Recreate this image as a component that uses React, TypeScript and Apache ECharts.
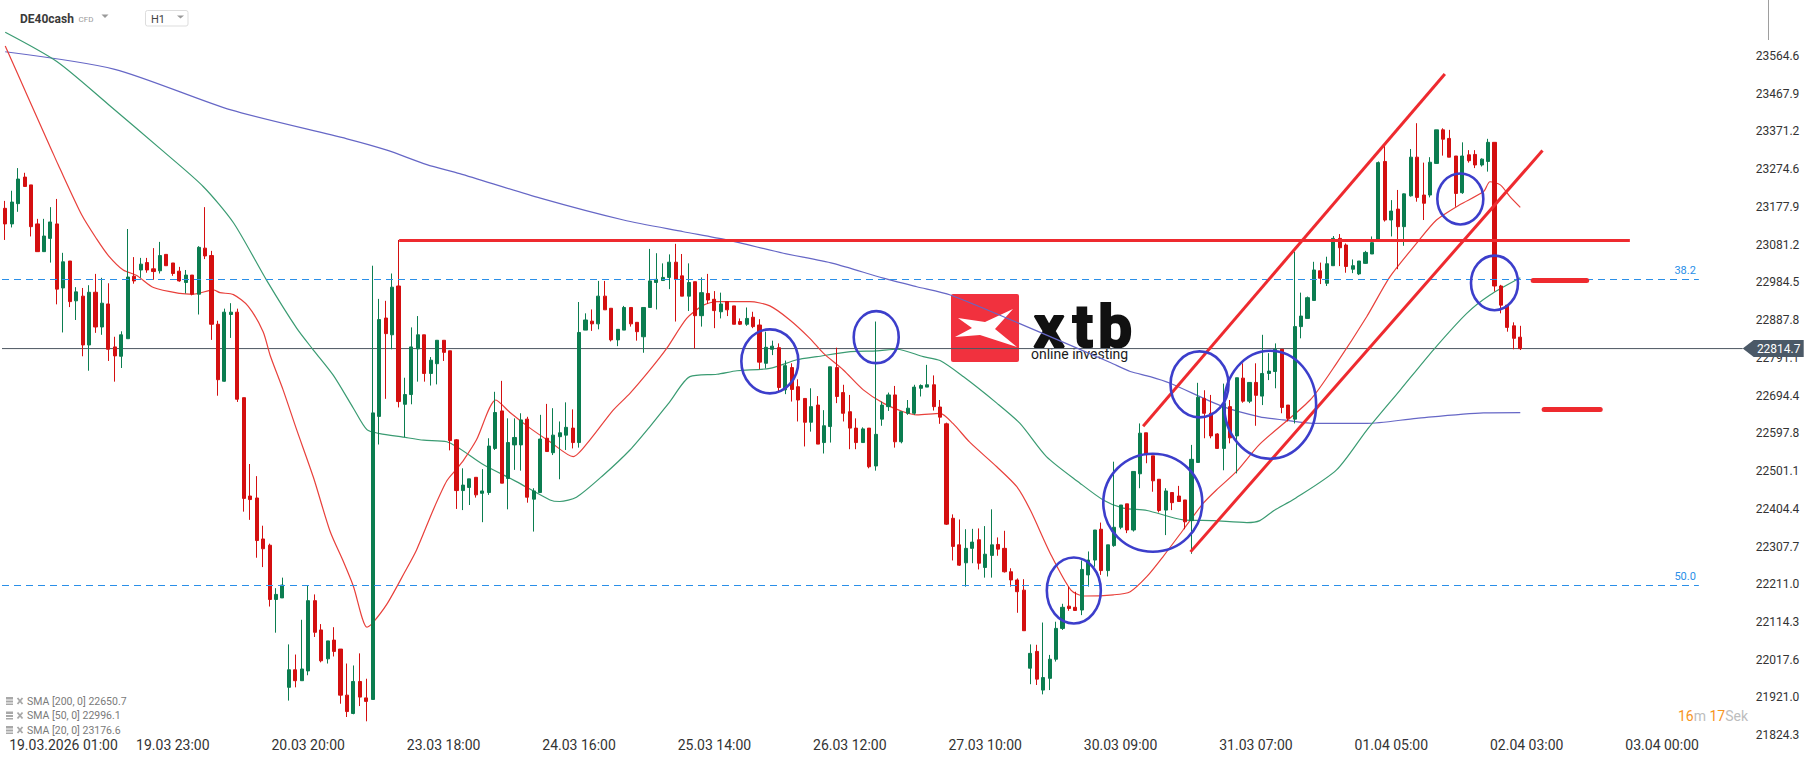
import React, { useEffect, useRef } from "react";
import * as echarts from "echarts";

// ---------- axis ticks ----------
const xTickLabels = [
  "19.03.2026 01:00", "19.03 23:00", "20.03 20:00", "23.03 18:00", "24.03 16:00",
  "25.03 14:00", "26.03 12:00", "27.03 10:00", "30.03 09:00", "31.03 07:00",
  "01.04 05:00", "02.04 03:00", "03.04 00:00",
];
const yTickValues = [
  23564.6, 23467.9, 23371.2, 23274.6, 23177.9, 23081.2, 22984.5, 22887.8, 22791.1,
  22694.4, 22597.8, 22501.1, 22404.4, 22307.7, 22211.0, 22114.3, 22017.6, 21921.0, 21824.3,
];
const FIRST_TICK_SLOT = 5;
const SLOTS_PER_TICK = 21;
const SLOT_COUNT = 270;
const Y_MIN = 21812.1;
const Y_MAX = 23707.6;

// ---------- H1 candles ----------
const opens = [
  23174,23134,23186,23254,23234,23134,23063,23097,23134,22970,
  23039,22937,22949,22824,22959,22870,22929,22819,22795,22840,
  23000,23016,23035,23019,23014,23056,23034,23013,22984,23003,
  22954,23072,23053,22877,22731,22902,22908,22689,22437,22432,
  22327,22311,22172,22176,21947,21992,21964,21989,22169,22094,
  22020,22068,22045,21927,21880,21962,21920,21916,22641,22893,
  22850,22975,22672,22697,22814,22850,22751,22776,22836,22809,
  22581,22451,22459,22485,22444,22446,22559,22655,22482,22568,
  22568,22634,22429,22446,22585,22548,22589,22593,22611,22574,
  22862,22885,22878,22949,22918,22837,22862,22920,22882,22845,
  22920,22984,22989,22997,23036,23001,22949,22986,22899,22956,
  22941,22909,22935,22924,22884,22877,22895,22875,22777,22813,
  22817,22709,22766,22717,22687,22626,22670,22574,22615,22766,
  22702,22653,22611,22574,22611,22514,22634,22666,22696,22576,
  22649,22649,22713,22716,22722,22665,22622,22380,22312,22266,
  22303,22325,22254,22285,22313,22303,22243,22222,22196,21996,
  22039,21940,21970,22019,22098,22155,22152,22145,22235,22273,
  22352,22246,22310,22357,22417,22350,22494,22599,22540,22480,
  22401,22446,22437,22427,22374,22523,22687,22649,22596,22559,
  22666,22591,22739,22680,22728,22693,22751,22756,22813,22670,
  22634,22871,22892,22938,23014,22982,23027,23097,23080,23018,
  23006,23033,23057,23095,23294,23144,23172,23127,23206,23305,
  23208,23208,23289,23375,23353,23308,23214,23311,23312,23285,
  23294,23343,22975,22926,22873,22844,
];
const highs = [
  23193,23219,23277,23265,23234,23147,23147,23177,23198,23060,
  23039,22972,22970,22977,23006,22996,22982,22845,22859,23121,
  23049,23047,23047,23072,23088,23056,23034,23024,23016,23003,
  23077,23177,23065,22886,22917,22931,22917,22689,22519,22488,
  22361,22315,22201,22228,22057,22031,22120,22208,22185,22109,
  22066,22101,22045,22008,22003,22034,21969,23027,22942,22937,
  23007,23093,22740,22869,22898,22850,22793,22836,22836,22809,
  22583,22508,22481,22485,22506,22585,22704,22732,22636,22636,
  22649,22640,22457,22645,22673,22662,22628,22677,22659,22934,
  22905,22915,22988,22988,22918,22864,22924,22920,22882,22920,
  23070,23059,23033,23056,23083,23057,23033,22986,22997,23006,
  22962,22958,22935,22924,22892,22920,22909,22890,22858,22835,
  22828,22784,22777,22736,22687,22713,22693,22657,22768,22817,
  22722,22696,22636,22613,22611,22884,22679,22702,22719,22653,
  22683,22722,22723,22773,22746,22683,22625,22390,22377,22352,
  22353,22354,22360,22403,22331,22348,22252,22226,22224,22057,
  22056,22113,22030,22115,22161,22205,22192,22272,22295,22350,
  22369,22312,22525,22414,22417,22500,22623,22599,22540,22480,
  22457,22446,22463,22427,22568,22727,22708,22696,22598,22725,
  22683,22740,22777,22729,22777,22850,22803,22828,22813,22670,
  23063,22958,22948,23037,23035,23050,23103,23108,23084,23043,
  23039,23065,23102,23294,23336,23195,23221,23212,23326,23392,
  23291,23305,23375,23379,23375,23308,23343,23323,23323,23302,
  23352,23343,22978,22926,22882,22873,
];
const lows = [
  23093,23125,23165,23230,23102,23063,23063,23035,22928,22856,
  22921,22888,22795,22758,22855,22850,22783,22730,22765,22840,
  22981,22996,23009,22991,23007,23027,23001,22986,22956,22951,
  22902,23044,22837,22694,22730,22842,22678,22397,22376,22279,
  22255,22154,22087,22176,21913,21947,21964,21978,22076,22011,
  22008,22026,21905,21871,21878,21899,21860,21916,22569,22686,
  22813,22664,22588,22672,22730,22730,22720,22723,22783,22554,
  22404,22401,22414,22433,22370,22440,22555,22470,22403,22504,
  22502,22420,22346,22446,22551,22542,22480,22555,22559,22561,
  22862,22860,22864,22914,22833,22821,22862,22871,22835,22804,
  22920,22915,22989,22967,22884,22949,22911,22815,22871,22929,
  22867,22892,22898,22877,22875,22873,22867,22762,22764,22798,
  22702,22698,22679,22628,22564,22602,22570,22546,22574,22675,
  22628,22557,22557,22574,22508,22502,22617,22655,22561,22572,
  22645,22645,22692,22716,22656,22622,22363,22272,22258,22205,
  22265,22249,22228,22228,22284,22241,22205,22138,22092,21955,
  21953,21929,21940,22013,22094,22143,22144,22132,22205,22256,
  22235,22231,22307,22352,22342,22346,22457,22521,22448,22395,
  22337,22401,22423,22352,22289,22523,22585,22585,22558,22503,
  22572,22495,22676,22675,22617,22670,22734,22713,22649,22628,
  22623,22841,22892,22938,22980,22975,23027,23026,23009,23008,
  23003,23032,23057,23093,23140,23102,23018,23078,23204,23191,
  23144,23202,23288,23309,23305,23178,23211,23291,23277,23281,
  23268,22961,22905,22858,22813,22811,
];
const closes = [
  23134,23190,23249,23230,23127,23063,23103,23139,22967,23037,
  22935,22960,22824,22959,22870,22931,22813,22796,22850,22998,
  22988,23031,23016,23012,23053,23027,23007,22988,23003,22954,
  23074,23052,22877,22735,22908,22908,22685,22431,22428,22323,
  22302,22172,22185,22209,21992,21964,21994,22169,22088,22015,
  22066,22039,21927,21885,21962,21922,21911,22650,22889,22853,
  22972,22679,22697,22819,22850,22751,22785,22836,22805,22579,
  22451,22465,22481,22440,22450,22565,22651,22470,22574,22587,
  22632,22434,22450,22583,22551,22593,22599,22613,22574,22856,
  22888,22878,22949,22914,22837,22864,22920,22878,22858,22920,
  22988,22992,22997,23036,22992,22949,22984,22899,22958,22939,
  22912,22929,22914,22877,22877,22892,22871,22780,22818,22821,
  22715,22771,22710,22683,22626,22666,22570,22617,22768,22692,
  22649,22611,22574,22609,22512,22595,22670,22696,22576,22653,
  22662,22716,22720,22722,22666,22639,22365,22308,22260,22303,
  22319,22265,22288,22312,22301,22243,22222,22192,22092,22034,
  21968,21972,22019,22098,22152,22149,22144,22249,22273,22350,
  22246,22312,22357,22414,22350,22500,22598,22545,22476,22400,
  22450,22420,22423,22371,22531,22690,22649,22591,22559,22674,
  22586,22740,22680,22728,22695,22751,22757,22813,22664,22636,
  22871,22898,22945,23016,22995,23032,23097,23073,23025,23027,
  23039,23061,23086,23291,23144,23167,23127,23211,23305,23202,
  23187,23292,23375,23351,23305,23212,23308,23296,23285,23300,
  23343,22975,22926,22869,22841,22814.7,
];

// ---------- moving averages, [candle index, value] ----------
const sma20 = [
  [0,23590],[3.5,23460],[7.2,23323],[8.2,23286],[11.9,23156],[14.2,23095],[16,23053],[18.3,23016],
  [20.4,23002],[23,22971],[27.1,22956],[29.2,22954],[32.3,22965],[33.3,22958],[35.4,22953],[37.7,22923],
  [40,22858],[41.1,22797],[43.1,22709],[45.2,22607],[47.8,22485],[50.4,22346],[52.4,22271],[54,22206],
  [56.1,22101],[56.8,22108],[59.2,22160],[62,22243],[63.8,22299],[66.4,22402],[68.5,22476],[70,22506],
  [71.1,22529],[73.1,22581],[76.1,22683],[78.3,22651],[81.4,22611],[84.5,22576],[88.1,22538],[90.7,22581],
  [94.3,22657],[96.9,22700],[100,22760],[102.6,22815],[105.7,22892],[108.3,22926],[110.4,22935],[115.5,22935],
  [118.6,22924],[121.7,22888],[124.8,22841],[126.9,22803],[130,22760],[133.1,22709],[136.2,22675],[139.3,22653],
  [141.4,22645],[145,22649],[147,22623],[149.6,22575],[153.8,22512],[156.9,22461],[159,22401],[162.1,22290],
  [165.3,22196],[167.3,22181],[171.9,22184],[174.5,22192],[177.1,22231],[179.6,22282],[182.7,22350],[185.8,22418],
  [187.9,22453],[191,22500],[194.6,22570],[202.4,22683],[206.5,22777],[211.2,22897],[214.8,22999],[218.9,23084],
  [222,23144],[225.6,23183],[229.3,23217],[230.3,23242],[231.9,23234],[233.4,23204],[235,23176.6],
];
const sma50 = [
  [0,23625],[8,23550],[16,23440],[24.3,23323],[30.7,23230],[35.4,23137],[40.6,22988],[45.2,22867],
  [47.8,22811],[50.9,22746],[54,22662],[56.1,22607],[58.1,22597],[61.7,22588],[64.9,22580],[68.5,22576],
  [74.2,22517],[79.3,22474],[84.5,22427],[86,22423],[88.6,22434],[92.8,22491],[96.9,22555],[100,22615],
  [103.1,22679],[106.2,22743],[110.4,22749],[113.5,22758],[118.6,22764],[122.8,22786],[125.9,22794],[131.1,22807],
  [135.2,22809],[138.3,22813],[142.4,22794],[145,22784],[148.6,22743],[153.8,22675],[157.4,22623],[161.5,22538],
  [166.7,22470],[170.3,22427],[173.4,22406],[177.1,22400],[182.7,22376],[187.4,22374],[192.6,22369],[194.6,22374],
  [196.8,22400],[200,22430],[206.5,22504],[211.2,22606],[216.4,22709],[221.5,22811],[226.7,22905],[230.3,22952],
  [235,22996.1],
];
const sma200 = [
  [0,23575],[17,23530],[35,23426],[53,23352],[59.2,23323],[65.4,23286],[70.5,23263],[83,23200],
  [95.9,23144],[105.2,23114],[111.9,23093],[120.7,23059],[128.4,23033],[136.2,22995],[141.4,22973],[146.6,22952],
  [160,22860],[171.4,22779],[174.5,22756],[177.6,22743],[180.7,22726],[188.9,22666],[194.6,22640],[198.2,22632],
  [203.4,22623],[211.2,22623],[218.9,22636],[229.3,22650],[235,22650.7],
];
const legendRows = [
  { name: "SMA [200, 0]", value: 22650.7 },
  { name: "SMA [50, 0]", value: 22996.1 },
  { name: "SMA [20, 0]", value: 23176.6 },
];

// ---------- drawn annotations (candle index, price) ----------
const fibLevels = [
  { label: "38.2", value: 22992.2 },
  { label: "50.0", value: 22209.2 },
];
const fibEndIndex = 262.7;
const resistance = { from: 61.1, to: 252, value: 23093 };
const channelUpper = [[176.5, 22616], [223.3, 23518]];
const channelLower = [[183.85, 22294], [238.45, 23322]];
const targetSegments = [
  [[237.0, 22990], [245.3, 22990]],
  [[238.7, 22659], [247.4, 22659]],
];
const circles = [
  { i: 118.6, v: 22782, rx: 28.5, ry: 32 },
  { i: 135.1, v: 22844, rx: 22.5, ry: 26 },
  { i: 165.75, v: 22195, rx: 27, ry: 33 },
  { i: 178.0, v: 22420, rx: 49.5, ry: 49 },
  { i: 185.25, v: 22723, rx: 29, ry: 33 },
  { i: 196.2, v: 22671, rx: 46, ry: 54 },
  { i: 225.7, v: 23198, rx: 23, ry: 25.5 },
  { i: 231.0, v: 22983, rx: 23.5, ry: 27.3 },
];

const UP = "#0b7d50";
const DOWN = "#d40f10";
const ANNOT_RED = "#ee2a2f";
const FIB_BLUE = "#2a8fe8";

export default function App() {
  const ref = useRef<HTMLDivElement>(null);

  useEffect(() => {
    if (!ref.current) return;
    const chart = echarts.init(ref.current, null, { renderer: "svg" });
    const lastClose = closes[closes.length - 1];
    const slots = Array.from({ length: SLOT_COUNT }, (_, i) => String(i));
    const candleData = opens.map((o, i) => [o, closes[i], lows[i], highs[i]]);

    const seg = (a: number[], b: number[], style: any) => [
      { coord: a, lineStyle: style, label: { show: false } },
      { coord: b },
    ];

    const markData: any[] = [];
    fibLevels.forEach((f) => {
      markData.push([
        {
          coord: [-0.5, f.value],
          lineStyle: { color: FIB_BLUE, width: 1, type: [7, 5] },
          label: {
            show: true,
            formatter: f.label,
            position: "insideEndTop",
            color: FIB_BLUE,
            fontSize: 11,
            fontFamily: "Roboto",
            distance: 3,
          },
        },
        { coord: [fibEndIndex, f.value] },
      ]);
    });
    markData.push(
      seg([resistance.from, resistance.value], [resistance.to, resistance.value], {
        color: ANNOT_RED, width: 3, type: "solid",
      })
    );
    markData.push(seg(channelUpper[0], channelUpper[1], { color: ANNOT_RED, width: 3, type: "solid" }));
    markData.push(seg(channelLower[0], channelLower[1], { color: ANNOT_RED, width: 3, type: "solid" }));
    targetSegments.forEach((s) =>
      markData.push(seg(s[0], s[1], { color: ANNOT_RED, width: 5, type: "solid", cap: "round" }))
    );

    const option: any = {
      animation: false,
      backgroundColor: "#ffffff",
      textStyle: { fontFamily: "Roboto" },
      grid: { left: 2, right: 73.3, top: 0, bottom: 21, containLabel: false },
      xAxis: [
        {
          type: "category",
          data: slots,
          boundaryGap: true,
          axisLine: { show: false },
          axisTick: { show: false },
          splitLine: { show: false },
          axisLabel: {
            interval: (i: number) => i >= FIRST_TICK_SLOT && (i - FIRST_TICK_SLOT) % SLOTS_PER_TICK === 0,
            formatter: (_v: string, i: number) => {
              const k = (i - FIRST_TICK_SLOT) / SLOTS_PER_TICK;
              const t = xTickLabels[k] ?? "";
              return k === 0 ? `{first|${t}}` : t;
            },
            color: "#333333",
            fontSize: 14,
            fontFamily: "Roboto",
            margin: -2,
            rich: {
              first: { padding: [0, 0, 0, 52], fontSize: 14, color: "#333333", fontFamily: "Roboto" },
            },
          },
        },
        { type: "value", min: -0.5, max: SLOT_COUNT - 0.5, show: false },
      ],
      yAxis: {
        type: "value",
        position: "right",
        min: Y_MIN,
        max: Y_MAX,
        splitLine: { show: false },
        axisLine: { show: false },
        axisTick: { show: false },
        axisLabel: {
          customValues: yTickValues,
          formatter: (v: number) => v.toFixed(1),
          color: "#333333",
          fontSize: 12,
          fontFamily: "Roboto",
          margin: 13,
        },
      },
      series: [
        {
          type: "line",
          name: "price",
          xAxisIndex: 1,
          data: [[-0.5, lastClose], [SLOT_COUNT - 0.5, lastClose]],
          showSymbol: false,
          lineStyle: { color: "#4c5661", width: 1 },
          z: 1,
          silent: true,
          markLine: {
            silent: true,
            symbol: ["none", "none"],
            animation: false,
            data: markData,
          },
        },
        {
          type: "line",
          name: "SMA200",
          xAxisIndex: 1,
          data: sma200,
          showSymbol: false,
          smooth: 0.25,
          lineStyle: { color: "#6667c6", width: 1.2 },
          z: 2,
        },
        {
          type: "line",
          name: "SMA50",
          xAxisIndex: 1,
          data: sma50,
          showSymbol: false,
          smooth: 0.25,
          lineStyle: { color: "#3a9b72", width: 1.2 },
          z: 2,
        },
        {
          type: "line",
          name: "SMA20",
          xAxisIndex: 1,
          data: sma20,
          showSymbol: false,
          smooth: 0.25,
          lineStyle: { color: "#e8403b", width: 1.2 },
          z: 2,
        },
        {
          type: "candlestick",
          xAxisIndex: 0,
          data: candleData,
          barWidth: 3.6,
          itemStyle: {
            color: UP,
            color0: DOWN,
            borderColor: UP,
            borderColor0: DOWN,
            borderWidth: 1,
          },
          z: 3,
        },
      ],
    };
    chart.setOption(option);

    const px = (i: number) => chart.convertToPixel({ xAxisIndex: 1 }, i) as number;
    const py = (v: number) => chart.convertToPixel({ yAxisIndex: 0 }, v) as number;

    const elements: any[] = [];
    circles.forEach((c) => {
      elements.push({
        type: "ellipse",
        z: 100,
        silent: true,
        shape: { cx: px(c.i), cy: py(c.v), rx: c.rx, ry: c.ry },
        style: { fill: "none", stroke: "#3c3ecb", lineWidth: 2.6 },
      });
    });

    // current price tag
    const gx = px(SLOT_COUNT - 0.5);
    const yp = py(lastClose);
    elements.push({
      type: "polygon",
      z: 110,
      shape: {
        points: [[gx, yp], [gx + 11, yp - 8.5], [gx + 61, yp - 8.5], [gx + 61, yp + 8.5], [gx + 11, yp + 8.5]],
      },
      style: { fill: "#4b5967" },
    });
    elements.push({
      type: "text",
      z: 111,
      style: {
        text: lastClose.toFixed(1), x: gx + 36, y: yp, align: "center", verticalAlign: "middle",
        font: "12px Roboto", fill: "#ffffff",
      },
    });

    // watermark logo
    const logoLetters = [
      { ch: "x", cx: 1049 },
      { ch: "t", cx: 1083 },
      { ch: "b", cx: 1115 },
    ];
    elements.push({
      type: "group",
      z: 105,
      children: [
        { type: "rect", shape: { x: 948, y: 291, width: 184, height: 73 }, style: { fill: "#ffffff" } },
        { type: "rect", shape: { x: 951, y: 294, width: 68, height: 68, r: 2 }, style: { fill: "#f1313e" } },
        {
          type: "polygon",
          shape: {
            points: [[958, 318], [985, 322], [1013, 309], [995, 329], [1017, 347], [980, 335], [955, 337], [972, 328]],
          },
          style: { fill: "#ffffff" },
        },
        ...logoLetters.map((l) => ({
          type: "text",
          style: {
            text: l.ch, x: l.cx, y: 326, align: "center", verticalAlign: "middle",
            font: "bold 60px Roboto", lineHeight: 34, fill: "#111111", stroke: "#111111", lineWidth: 2.2,
          },
        })),
        {
          type: "text",
          style: {
            text: "online investing", x: 1031, y: 353.5, align: "left", verticalAlign: "middle",
            font: "14px Roboto", lineHeight: 12, fill: "#1a1a1a",
          },
        },
      ],
    });

    // header
    elements.push(
      { type: "text", z: 120, style: { text: "DE40cash", x: 20, y: 19, verticalAlign: "middle", font: "bold 12px Roboto", fill: "#3a3a3a" } },
      { type: "text", z: 120, style: { text: "CFD", x: 78.5, y: 19.5, verticalAlign: "middle", font: "8px Roboto", fill: "#9a9a9a" } },
      { type: "polygon", z: 120, shape: { points: [[101.5, 14.5], [108.5, 14.5], [105, 18]] }, style: { fill: "#9a9a9a" } },
      { type: "rect", z: 120, shape: { x: 145.5, y: 10.5, width: 42.5, height: 15.5, r: 2 }, style: { fill: "#ffffff", stroke: "#dddddd", lineWidth: 1 } },
      { type: "text", z: 121, style: { text: "H1", x: 151, y: 19, verticalAlign: "middle", font: "11px Roboto", fill: "#444444" } },
      { type: "polygon", z: 121, shape: { points: [[177, 15.5], [184, 15.5], [180.5, 18.5]] }, style: { fill: "#9a9a9a" } },
      { type: "line", z: 121, shape: { x1: 1768.5, y1: 0, x2: 1768.5, y2: 40 }, style: { stroke: "#9e9e9e", lineWidth: 1 } }
    );

    // indicator legend
    const legendY = [701, 715.5, 730];
    legendRows.forEach((r, k) => {
      const y = legendY[k];
      elements.push(
        { type: "rect", z: 120, shape: { x: 6, y: y - 4, width: 7, height: 8 }, style: { fill: "#a8a8a8" } },
        { type: "rect", z: 121, shape: { x: 6, y: y - 1.5, width: 7, height: 1 }, style: { fill: "#ffffff" } },
        { type: "rect", z: 121, shape: { x: 6, y: y + 1.5, width: 7, height: 1 }, style: { fill: "#ffffff" } },
        { type: "line", z: 120, shape: { x1: 17.5, y1: y - 3, x2: 22.5, y2: y + 3 }, style: { stroke: "#a8a8a8", lineWidth: 1.8 } },
        { type: "line", z: 120, shape: { x1: 22.5, y1: y - 3, x2: 17.5, y2: y + 3 }, style: { stroke: "#a8a8a8", lineWidth: 1.8 } },
        {
          type: "text", z: 120,
          style: { text: `${r.name} ${r.value.toFixed(1)}`, x: 27, y, verticalAlign: "middle", font: "10.5px Roboto", lineHeight: 12, fill: "#7a7a7a" },
        }
      );
    });

    // candle countdown
    elements.push({
      type: "text",
      z: 120,
      style: {
        text: "{o|16}{g|m }{o|17}{g|Sek}",
        x: 1748, y: 716, align: "right", verticalAlign: "middle",
        font: "14px Roboto",
        rich: {
          o: { fill: "#f7941d", font: "14px Roboto" },
          g: { fill: "#bdbdbd", font: "14px Roboto" },
        },
      },
    });

    chart.setOption({ graphic: { elements } });

    return () => chart.dispose();
  }, []);

  return (
    <div
      ref={ref}
      style={{ position: "fixed", left: 0, top: 0, width: 1816, height: 761, background: "#ffffff" }}
    />
  );
}
